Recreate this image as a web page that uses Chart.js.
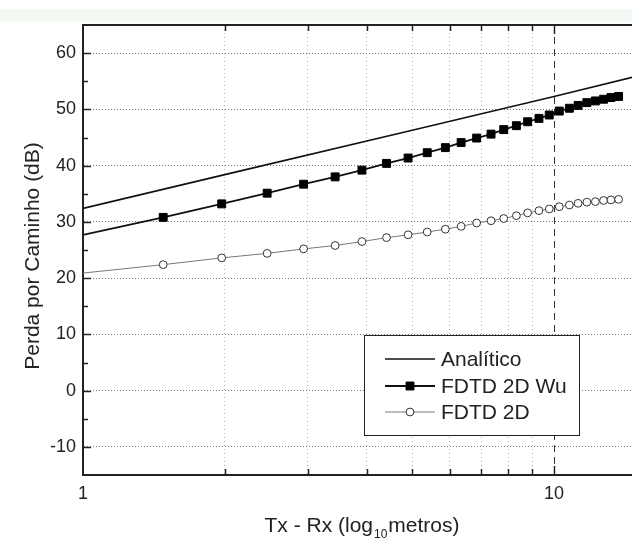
<!DOCTYPE html>
<html>
<head>
<meta charset="utf-8">
<script src="https://cdn.jsdelivr.net/npm/chart.js@4.4.1/dist/chart.umd.min.js"></script>
<style>
  html, body { margin: 0; padding: 0; background: #fff; }
  #wrap { position: relative; width: 632px; height: 540px; }
  #band { position: absolute; left: 0; top: 9px; width: 632px; height: 13px; background: #f3faf3; }
  canvas { position: absolute; left: 0; top: 0; }
</style>
</head>
<body>
<div id="wrap">
  <div id="band"></div>
  <canvas id="chart" width="632" height="540"></canvas>
</div>
<script>
// Values
const distances = [1, 1.48, 1.97, 2.46, 2.94, 3.43, 3.91, 4.41, 4.90, 5.38, 5.88, 6.35, 6.85, 7.35, 7.82,
    8.32, 8.79, 9.29, 9.77, 10.26, 10.78, 11.25, 11.74, 12.24, 12.74, 13.21, 13.71];
const wuLoss = [27.7, 30.8, 33.2, 35.1, 36.7, 38.0, 39.2, 40.4, 41.35, 42.3, 43.2, 44.1, 44.9, 45.6, 46.4,
    47.1, 47.8, 48.4, 49.0, 49.7, 50.2, 50.7, 51.2, 51.5, 51.8, 52.1, 52.3];
const fdtdLoss = [20.9, 22.4, 23.6, 24.4, 25.2, 25.8, 26.5, 27.2, 27.7, 28.2, 28.7, 29.2, 29.8, 30.2, 30.6,
    31.1, 31.6, 32.0, 32.3, 32.7, 33.0, 33.3, 33.5, 33.6, 33.8, 33.9, 34.0];
const analyticDist = [1, 2, 5, 10, 15];
const analyticLoss = [32.4, 38.4, 46.3, 52.3, 55.9];

const seriesNames = ["Analítico", "FDTD 2D Wu", "FDTD 2D"];
const xTickValues = [1, 2, 3, 4, 5, 6, 7, 8, 9, 10];
const xTickLabels = { 1: "1", 10: "10" };
const yTickValues = [-10, 0, 10, 20, 30, 40, 50, 60];
const yMinorValues = [-5, 5, 15, 25, 35, 45, 55];

const FONT = "'Liberation Sans', Arial, sans-serif";

function points(xs, ys) {
    return xs.map((x, i) => ({ x: x, y: ys[i] }));
}

// Inward ticks, top frame line, axis titles and the boxed legend
const decorPlugin = {
    id: "decor",
    afterDraw(chart) {
        const ctx = chart.ctx;
        const area = chart.chartArea;
        const xs = chart.scales.x;
        const ys = chart.scales.y;
        ctx.save();

        // top frame line
        ctx.strokeStyle = "#222";
        ctx.lineWidth = 2;
        ctx.beginPath();
        ctx.moveTo(area.left - 1, area.top);
        ctx.lineTo(area.right, area.top);
        ctx.stroke();

        // x ticks (bottom and top), pointing inward
        ctx.lineWidth = 1.5;
        xTickValues.forEach(v => {
            if (v === 1) return;
            const px = Math.round(xs.getPixelForValue(v)) + 0.5;
            const len = v === 10 ? 9 : 6;
            ctx.beginPath();
            ctx.moveTo(px, area.bottom);
            ctx.lineTo(px, area.bottom - len);
            ctx.moveTo(px, area.top);
            ctx.lineTo(px, area.top + len);
            ctx.stroke();
        });

        // y ticks on the left axis
        yTickValues.forEach(v => {
            const py = Math.round(ys.getPixelForValue(v)) + 0.5;
            ctx.beginPath();
            ctx.moveTo(area.left, py);
            ctx.lineTo(area.left + 8, py);
            ctx.stroke();
        });
        yMinorValues.forEach(v => {
            const py = Math.round(ys.getPixelForValue(v)) + 0.5;
            ctx.beginPath();
            ctx.moveTo(area.left, py);
            ctx.lineTo(area.left + 5, py);
            ctx.stroke();
        });

        // y title
        ctx.fillStyle = "#222";
        ctx.font = "21px " + FONT;
        ctx.textAlign = "center";
        ctx.textBaseline = "middle";
        ctx.save();
        ctx.translate(33, 256);
        ctx.rotate(-Math.PI / 2);
        ctx.fillText("Perda por Caminho (dB)", 0, 0);
        ctx.restore();

        // x title with subscript
        const partA = "Tx - Rx (log";
        const sub = "10";
        const partB = "metros)";
        ctx.textAlign = "left";
        ctx.textBaseline = "alphabetic";
        ctx.font = "21px " + FONT;
        const wA = ctx.measureText(partA).width;
        const wB = ctx.measureText(partB).width;
        ctx.font = "12px " + FONT;
        const wS = ctx.measureText(sub).width;
        let tx = 362 - (wA + wS + wB + 2) / 2;
        const base = 532;
        ctx.font = "21px " + FONT;
        ctx.fillText(partA, tx, base);
        tx += wA + 1;
        ctx.font = "12px " + FONT;
        ctx.fillText(sub, tx, base + 6);
        tx += wS + 1;
        ctx.font = "21px " + FONT;
        ctx.fillText(partB, tx, base);

        // legend
        const lx = 364.5, ly = 335.5, lw = 215, lh = 100;
        ctx.fillStyle = "#fff";
        ctx.fillRect(lx, ly, lw, lh);
        ctx.strokeStyle = "#222";
        ctx.lineWidth = 1;
        ctx.strokeRect(lx, ly, lw, lh);
        const rows = [359, 386, 412];
        chart.data.datasets.forEach((ds, i) => {
            const ry = rows[i];
            ctx.strokeStyle = ds.borderColor;
            ctx.lineWidth = ds.borderWidth;
            ctx.beginPath();
            ctx.moveTo(385, ry);
            ctx.lineTo(435, ry);
            ctx.stroke();
            if (ds.legendRadius) {
                ctx.fillStyle = ds.pointBackgroundColor;
                ctx.strokeStyle = ds.pointBorderColor;
                ctx.lineWidth = ds.pointBorderWidth;
                ctx.beginPath();
                if (ds.pointStyle === "rect") {
                    const s = ds.legendRadius * Math.SQRT1_2;
                    ctx.rect(410 - s, ry - s, 2 * s, 2 * s);
                } else {
                    ctx.arc(410, ry, ds.legendRadius, 0, Math.PI * 2);
                }
                ctx.fill();
                ctx.stroke();
            }
            ctx.fillStyle = "#222";
            ctx.font = "21px " + FONT;
            ctx.textAlign = "left";
            ctx.textBaseline = "middle";
            ctx.fillText(ds.label, 441, ry + 1);
        });

        ctx.restore();
    }
};

const chart = new Chart(document.getElementById("chart"), {
    type: "line",
    data: {
        datasets: [
            {
                label: seriesNames[0],
                data: points(analyticDist, analyticLoss),
                borderColor: "#111",
                borderWidth: 1.6,
                pointRadius: 0,
                tension: 0
            },
            {
                label: seriesNames[1],
                data: points(distances, wuLoss),
                borderColor: "#111",
                borderWidth: 1.8,
                pointStyle: "rect",
                pointRadius: ctx => ctx.dataIndex === 0 ? 0 : 5.6,
                legendRadius: 5.6,
                pointBackgroundColor: "#000",
                pointBorderColor: "#000",
                pointBorderWidth: 1,
                tension: 0
            },
            {
                label: seriesNames[2],
                data: points(distances, fdtdLoss),
                borderColor: "#777",
                borderWidth: 1,
                pointStyle: "circle",
                pointRadius: ctx => ctx.dataIndex === 0 ? 0 : 3.9,
                legendRadius: 3.9,
                pointBackgroundColor: "#fff",
                pointBorderColor: "#333",
                pointBorderWidth: 1,
                tension: 0
            }
        ]
    },
    options: {
        responsive: false,
        animation: false,
        layout: { autoPadding: false, padding: { top: 25, right: 0, left: 0, bottom: 0 } },
        plugins: {
            legend: { display: false },
            tooltip: { enabled: false }
        },
        scales: {
            x: {
                type: "logarithmic",
                min: 1,
                max: 14.64,
                afterBuildTicks: scale => {
                    scale.ticks = xTickValues.map(v => ({ value: v }));
                },
                afterFit: scale => {
                    scale.height = 65;
                    scale.paddingRight = 0;
                    scale.paddingLeft = 0;
                },
                ticks: {
                    autoSkip: false,
                    maxRotation: 0,
                    padding: 8,
                    color: "#222",
                    font: { family: FONT, size: 18 },
                    callback: v => xTickLabels[v] || ""
                },
                grid: {
                    drawTicks: false,
                    lineWidth: 1,
                    color: ctx => ctx.tick && ctx.tick.value === 10 ? "#333" : "#b5b5b5"
                },
                border: {
                    display: true,
                    color: "#222",
                    width: 2,
                    dash: ctx => ctx.type === "tick" ? (ctx.tick.value === 10 ? [7, 5] : [1, 3]) : []
                }
            },
            y: {
                min: -15,
                max: 65,
                afterBuildTicks: scale => {
                    scale.ticks = yTickValues.map(v => ({ value: v }));
                },
                afterFit: scale => {
                    scale.width = 83;
                    scale.paddingTop = 0;
                    scale.paddingBottom = 0;
                },
                ticks: {
                    padding: 7,
                    color: "#222",
                    font: { family: FONT, size: 18 }
                },
                grid: {
                    drawTicks: false,
                    lineWidth: 1,
                    color: "#777"
                },
                border: {
                    display: true,
                    color: "#222",
                    width: 2,
                    dash: ctx => ctx.type === "tick" ? [1, 2] : []
                }
            }
        }
    },
    plugins: [decorPlugin]
});
</script>
</body>
</html>
